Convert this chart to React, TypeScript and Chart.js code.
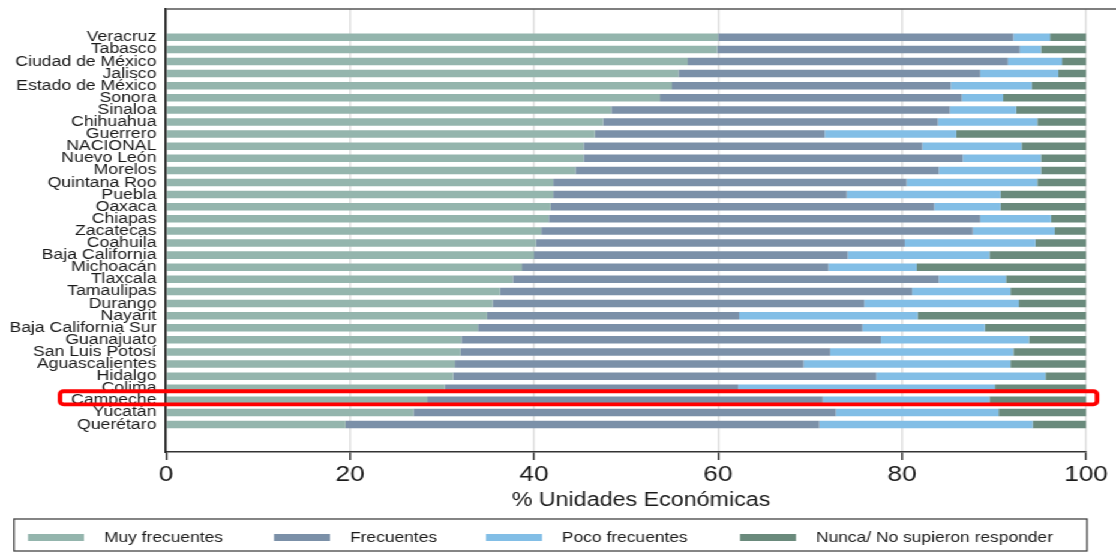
import React, { useEffect, useRef } from "react";
import { Chart, registerables } from "chart.js";

Chart.register(...registerables);

const CATEGORIES = [
  "Veracruz", "Tabasco", "Ciudad de México", "Jalisco", "Estado de México", "Sonora",
  "Sinaloa", "Chihuahua", "Guerrero", "NACIONAL", "Nuevo León", "Morelos", "Quintana Roo",
  "Puebla", "Oaxaca", "Chiapas", "Zacatecas", "Coahuila", "Baja California", "Michoacán",
  "Tlaxcala", "Tamaulipas", "Durango", "Nayarit", "Baja California Sur", "Guanajuato",
  "San Luis Potosí", "Aguascalientes", "Hidalgo", "Colima", "Campeche", "Yucatán", "Querétaro",
];

const MUY_FRECUENTES = [60.0, 59.9, 56.7, 55.7, 55.0, 53.7, 48.4, 47.5, 46.6, 45.4, 45.4, 44.5, 42.1, 42.1, 41.8, 41.6, 40.8, 40.2, 40.0, 38.7, 37.7, 36.3, 35.5, 34.9, 33.9, 32.1, 32.0, 31.4, 31.2, 30.3, 28.4, 26.9, 19.5];
const FRECUENTES = [32.1, 32.9, 34.8, 32.8, 30.3, 32.8, 36.8, 36.4, 25.0, 36.8, 41.2, 39.5, 38.4, 31.9, 41.7, 46.9, 46.9, 40.1, 34.1, 33.3, 46.3, 44.8, 40.4, 27.4, 41.8, 45.6, 40.2, 37.9, 46.0, 31.9, 43.0, 45.9, 51.5];
const POCO_FRECUENTES = [4.0, 2.3, 5.9, 8.5, 8.8, 4.5, 7.2, 10.8, 14.3, 10.8, 8.5, 11.1, 14.2, 16.7, 7.2, 7.7, 8.9, 14.2, 15.4, 9.6, 7.3, 10.7, 16.8, 19.4, 13.3, 16.1, 19.9, 22.5, 18.4, 27.9, 18.1, 17.7, 23.2];
const NUNCA = [3.9, 4.9, 2.6, 3.0, 5.9, 9.0, 7.6, 5.3, 14.1, 7.0, 4.9, 4.9, 5.3, 9.3, 9.3, 3.8, 3.4, 5.5, 10.5, 18.4, 8.7, 8.2, 7.3, 18.3, 11.0, 6.2, 7.9, 8.2, 4.4, 9.9, 10.5, 9.5, 5.8];

const SERIES_LABELS = ["Muy frecuentes", "Frecuentes", "Poco frecuentes", "Nunca/ No supieron responder"];
const SERIES_COLORS = ["#94b5ad", "#7b90a8", "#82bee6", "#6a8a7c"];
const X_TICK_STEP = 20;
const X_TITLE = "% Unidades Económicas";
const HIGHLIGHT = ["Colima", "Campeche"];

const FONT = '"Liberation Sans", Arial, Helvetica, sans-serif';
const STRETCH = 1.2;

const decorPlugin = {
  id: "decor",
  beforeDatasetsDraw(chart: any) {
    const { ctx, chartArea } = chart;
    ctx.save();
    ctx.strokeStyle = "#555";
    ctx.lineWidth = 1.5;
    ctx.beginPath();
    ctx.moveTo(chartArea.left, chartArea.top);
    ctx.lineTo(chart.width, chartArea.top);
    ctx.stroke();
    ctx.restore();
  },
  afterDraw(chart: any) {
    const { ctx } = chart;
    ctx.save();
    // axis title, centred on the whole graph like the original
    ctx.font = `19.4px ${FONT}`;
    ctx.fillStyle = "#1a1a1a";
    ctx.textAlign = "center";
    ctx.textBaseline = "middle";
    ctx.fillText(X_TITLE, 641 / STRETCH, 501);
    // legend box and keys
    ctx.strokeStyle = "#444";
    ctx.lineWidth = 1.3;
    ctx.strokeRect(14 / STRETCH, 519, (1087 - 14) / STRETCH, 32);
    const starts = [28, 274, 486, 740];
    ctx.font = `14.5px ${FONT}`;
    ctx.textAlign = "left";
    chart.data.datasets.forEach((ds: any, i: number) => {
      const x = starts[i] / STRETCH;
      ctx.fillStyle = ds.backgroundColor;
      ctx.fillRect(x, 534, 56 / STRETCH, 7);
      ctx.fillStyle = "#1a1a1a";
      ctx.fillText(ds.label, x + 76 / STRETCH, 538);
    });
    // red highlight box around Colima / Campeche
    const yScale = chart.scales.y;
    const a = CATEGORIES.indexOf(HIGHLIGHT[0]);
    const b = CATEGORIES.indexOf(HIGHLIGHT[1]);
    const top = yScale.getPixelForValue(a) + 3;
    const bottom = yScale.getPixelForValue(b) + 4;
    ctx.strokeStyle = "#ff0000";
    ctx.lineWidth = 3.8;
    ctx.beginPath();
    (ctx as any).roundRect(60 / STRETCH, top, (1097 - 60) / STRETCH, bottom - top, 3);
    ctx.stroke();
    ctx.restore();
  },
};

export default function App() {
  const ref = useRef<HTMLCanvasElement>(null);
  useEffect(() => {
    const series = [MUY_FRECUENTES, FRECUENTES, POCO_FRECUENTES, NUNCA];
    const chart = new Chart(ref.current as HTMLCanvasElement, {
      type: "bar",
      data: {
        datasets: series.map((vals, k) => ({
          label: SERIES_LABELS[k],
          data: vals.map((v, i) => ({ x: v, y: i })),
          backgroundColor: SERIES_COLORS[k],
          borderWidth: 0,
          grouped: false,
          barPercentage: 0.62,
          categoryPercentage: 1,
        })),
      },
      options: {
        indexAxis: "y",
        animation: false,
        responsive: true,
        maintainAspectRatio: false,
        layout: { padding: { top: 9, right: 25, bottom: 39, left: 0 } },
        plugins: { legend: { display: false }, tooltip: { enabled: false } },
        scales: {
          x: {
            type: "linear",
            min: 0,
            max: 100,
            stacked: true,
            ticks: { stepSize: X_TICK_STEP, padding: 2, color: "#1a1a1a", font: { family: FONT, size: 22 }, maxRotation: 0 },
            grid: { color: "#dedede", lineWidth: 1.5, tickColor: "#333", tickWidth: 1.5, tickLength: 8, drawTicks: true },
            border: { color: "#333", width: 1.5 },
            title: { display: false, text: X_TITLE },
            afterFit: (s: any) => { s.height = 61; },
          },
          y: {
            type: "linear",
            reverse: true,
            offset: false,
            min: -2.34,
            max: 34.27,
            afterBuildTicks: (s: any) => { s.ticks = CATEGORIES.map((_, i) => ({ value: i })); },
            afterFit: (s: any) => {
              s.width = 166 / STRETCH;
              s.paddingTop = 0;
              s.paddingBottom = 0;
            },
            grid: { display: false, drawTicks: false, offset: false },
            border: { display: true, color: "#222", width: 1.7 },
            ticks: {
              autoSkip: false,
              padding: 8,
              color: "#1a1a1a",
              font: { family: FONT, size: 14.7, lineHeight: 1 },
              callback: (v: any) => CATEGORIES[v] ?? "",
            },
          },
        },
      },
      plugins: [decorPlugin],
    } as any);
    return () => chart.destroy();
  }, []);
  return (
    <div
      style={{
        position: "fixed",
        left: 0,
        top: 0,
        width: 1116 / STRETCH,
        height: 552,
        transform: `scaleX(${STRETCH})`,
        transformOrigin: "0 0",
        background: "#fff",
      }}
    >
      <canvas ref={ref} />
    </div>
  );
}
